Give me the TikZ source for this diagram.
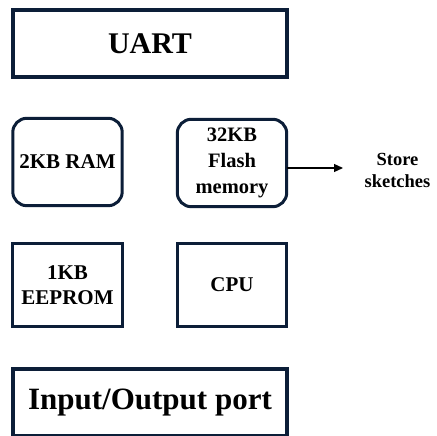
\documentclass[tikz,border=0pt]{standalone}
\usepackage{fontspec}
\setmainfont{Liberation Serif}
\usetikzlibrary{arrows.meta,positioning}
\definecolor{boxnavy}{RGB}{12,30,56}
\tikzset{
  block/.style={minimum width=274pt, minimum height=67pt,
    inner sep=0pt, font=\fontsize{30}{36}\selectfont\bfseries},
  part/.style={minimum width=109pt, minimum height=83pt,
    inner sep=0pt, align=center, font=\fontsize{21}{25}\selectfont\bfseries},
  frame/.style={draw=boxnavy, line width=#1},
  frame/.default=3pt,
}
\begin{document}
\begin{tikzpicture}[x=1pt,y=1pt]
\fill[white] (0,0) rectangle (436,436);
\useasboundingbox (0,0) rectangle (436,436);
% top and bottom blocks
\node[block] (uart) at (150,392.5) {UART};
\node[block, font=\fontsize{31}{36}\selectfont\bfseries] (io) at (150,33.5) {Input/Output port};
% memory and cpu
\node[part, minimum height=87pt] (ram) at (67.5,274) {2KB RAM};
\node[part, minimum height=87pt, font=\fontsize{20.5}{26}\selectfont\bfseries] (flash) at (232,273) {32KB\\Flash\\memory};
\node[part] (eeprom) at (67.5,151) {1KB\\EEPROM};
\node[part] (cpu) at (232,151) {CPU};
% frames
\draw[frame=3.5pt] (uart.south west) rectangle (uart.north east);
\draw[frame=3.5pt] (io.south west) rectangle (io.north east);
\draw[frame, rounded corners=14pt] (ram.south west) rectangle (ram.north east);
\draw[frame, rounded corners=14pt] (flash.south west) rectangle (flash.north east);
\draw[frame] (eeprom.south west) rectangle (eeprom.north east);
\draw[frame] (cpu.south west) rectangle (cpu.north east);
% flash note
\node[inner sep=0pt, align=center, font=\fontsize{18.5}{22}\selectfont\bfseries] (store) at (397.5,266) {Store\\sketches};
\coordinate (tip) at (343,268);
\draw[-{Triangle[length=9pt,width=8pt]}, line width=1.2pt] (flash.east |- tip) -- (tip);
\end{tikzpicture}
\end{document}
